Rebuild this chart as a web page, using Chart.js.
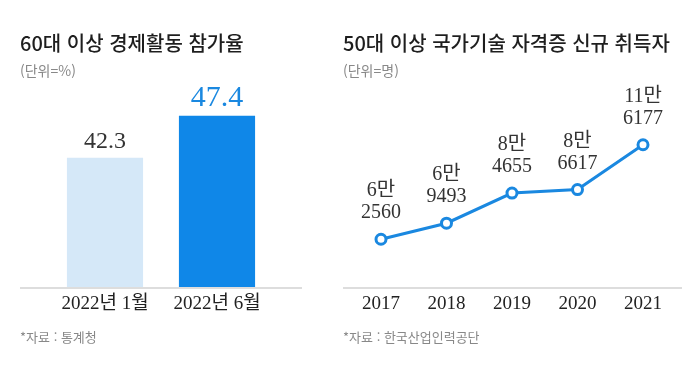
<!DOCTYPE html>
<html lang="ko">
<head>
<meta charset="utf-8">
<script src="https://cdn.jsdelivr.net/npm/chart.js@4/dist/chart.umd.min.js"></script>
<style>
  html, body { margin: 0; padding: 0; background: #fff; }
  #wrap { position: relative; width: 700px; height: 370px; overflow: hidden; font-family: "Noto Sans CJK KR", "Noto Sans", sans-serif; }
  canvas { position: absolute; top: 0; }
  #left-chart { left: 0; }
  #right-chart { left: 340px; }
  .title { position: absolute; top: 33px; font-size: 20px; line-height: 20px; font-weight: 500; color: #1e1e1e; white-space: nowrap; }
  .unit { position: absolute; top: 63px; font-size: 14px; line-height: 14px; color: #888; white-space: nowrap; }
  .source { position: absolute; top: 330px; font-size: 13px; line-height: 13px; color: #888; white-space: nowrap; }
</style>
</head>
<body>
<div id="wrap">
  <canvas id="left-chart" width="340" height="370"></canvas>
  <canvas id="right-chart" width="360" height="370"></canvas>
  <div class="title" style="left:20px">60대 이상 경제활동 참가율</div>
  <div class="unit" style="left:20px">(단위=%)</div>
  <div class="source" style="left:20px">*자료 : 통계청</div>
  <div class="title" style="left:343px">50대 이상 국가기술 자격증 신규 취득자</div>
  <div class="unit" style="left:343px">(단위=명)</div>
  <div class="source" style="left:343px">*자료 : 한국산업인력공단</div>
</div>
<script>
(function () {
  "use strict";

  // left: participation rate (%)
  const rateLabels = ["2022년 1월", "2022년 6월"];
  const rateValues = [42.3, 47.4];
  const rateColors = ["#d5e8f8", "#0f87e8"];
  const rateLabelColors = ["#333333", "#1a88e0"];

  // right: new certificate holders (persons)
  const yearLabels = ["2017", "2018", "2019", "2020", "2021"];
  const holderValues = [62560, 69493, 84655, 86617, 116177];

  const SERIF = '"Liberation Serif", "Noto Sans CJK KR", serif';
  const LINE_BLUE = "#1a88e0";

  // baseline drawn a bit wider than the plot area
  const baseLine = {
    id: "baseLine",
    afterDatasetsDraw: function (chart, args, opts) {
      const ctx = chart.ctx;
      const a = chart.chartArea;
      ctx.save();
      ctx.strokeStyle = "#dddddd";
      ctx.lineWidth = 2;
      ctx.beginPath();
      ctx.moveTo(a.left - opts.extLeft, a.bottom + 1);
      ctx.lineTo(a.right + opts.extRight, a.bottom + 1);
      ctx.stroke();
      ctx.restore();
    },
  };

  const barValueLabels = {
    id: "barValueLabels",
    afterDatasetsDraw: function (chart) {
      const ctx = chart.ctx;
      const meta = chart.getDatasetMeta(0);
      ctx.save();
      ctx.textAlign = "center";
      ctx.textBaseline = "alphabetic";
      meta.data.forEach(function (el, i) {
        ctx.font = (i === 1 ? "30px " : "24px ") + SERIF;
        ctx.fillStyle = rateLabelColors[i];
        ctx.fillText(String(rateValues[i]), el.x, el.y - 10);
      });
      ctx.restore();
    },
  };

  const pointValueLabels = {
    id: "pointValueLabels",
    afterDatasetsDraw: function (chart) {
      const ctx = chart.ctx;
      const meta = chart.getDatasetMeta(0);
      ctx.save();
      ctx.textAlign = "center";
      ctx.textBaseline = "alphabetic";
      ctx.font = "20px " + SERIF;
      ctx.fillStyle = "#333333";
      meta.data.forEach(function (el, i) {
        const v = holderValues[i];
        ctx.fillText(Math.floor(v / 10000) + "만", el.x, el.y - 43);
        ctx.fillText(String(v % 10000), el.x, el.y - 21);
      });
      ctx.restore();
    },
  };

  function xAxis(pad) {
    return {
      grid: { display: false, drawTicks: false, tickLength: 0 },
      border: { display: false },
      ticks: {
        color: "#222222",
        font: { family: SERIF, size: 19 },
        padding: pad,
        maxRotation: 0,
        autoSkip: false,
      },
      afterFit: function (s) {
        s.height = 30;
      },
    };
  }

  new Chart(document.getElementById("left-chart"), {
    type: "bar",
    data: {
      labels: rateLabels,
      datasets: [
        {
          data: rateValues,
          backgroundColor: rateColors,
          borderWidth: 0,
          barPercentage: 0.68,
          categoryPercentage: 1,
        },
      ],
    },
    options: {
      responsive: false,
      animation: false,
      layout: { padding: { left: 49, right: 67, top: 100, bottom: 53 } },
      plugins: {
        legend: { display: false },
        tooltip: { enabled: false },
        baseLine: { extLeft: 29, extRight: 29 },
      },
      scales: {
        x: xAxis(6),
        y: { display: false, min: 26.6, max: 49.3 },
      },
    },
    plugins: [baseLine, barValueLabels],
  });

  new Chart(document.getElementById("right-chart"), {
    type: "line",
    data: {
      labels: yearLabels,
      datasets: [
        {
          data: holderValues,
          borderColor: LINE_BLUE,
          borderWidth: 3,
          tension: 0,
          pointRadius: 5,
          pointBorderWidth: 3,
          pointBackgroundColor: "#ffffff",
          pointBorderColor: LINE_BLUE,
        },
      ],
    },
    options: {
      responsive: false,
      animation: false,
      layout: { padding: { left: 41, right: 57, top: 100, bottom: 53 } },
      plugins: {
        legend: { display: false },
        tooltip: { enabled: false },
        baseLine: { extLeft: 38, extRight: 39 },
      },
      scales: {
        x: Object.assign(xAxis(6), { offset: false }),
        y: {
          display: false,
          type: "logarithmic",
          bounds: "data",
          min: 45760,
          max: 155750,
        },
      },
    },
    plugins: [baseLine, pointValueLabels],
  });
})();
</script>
</body>
</html>
